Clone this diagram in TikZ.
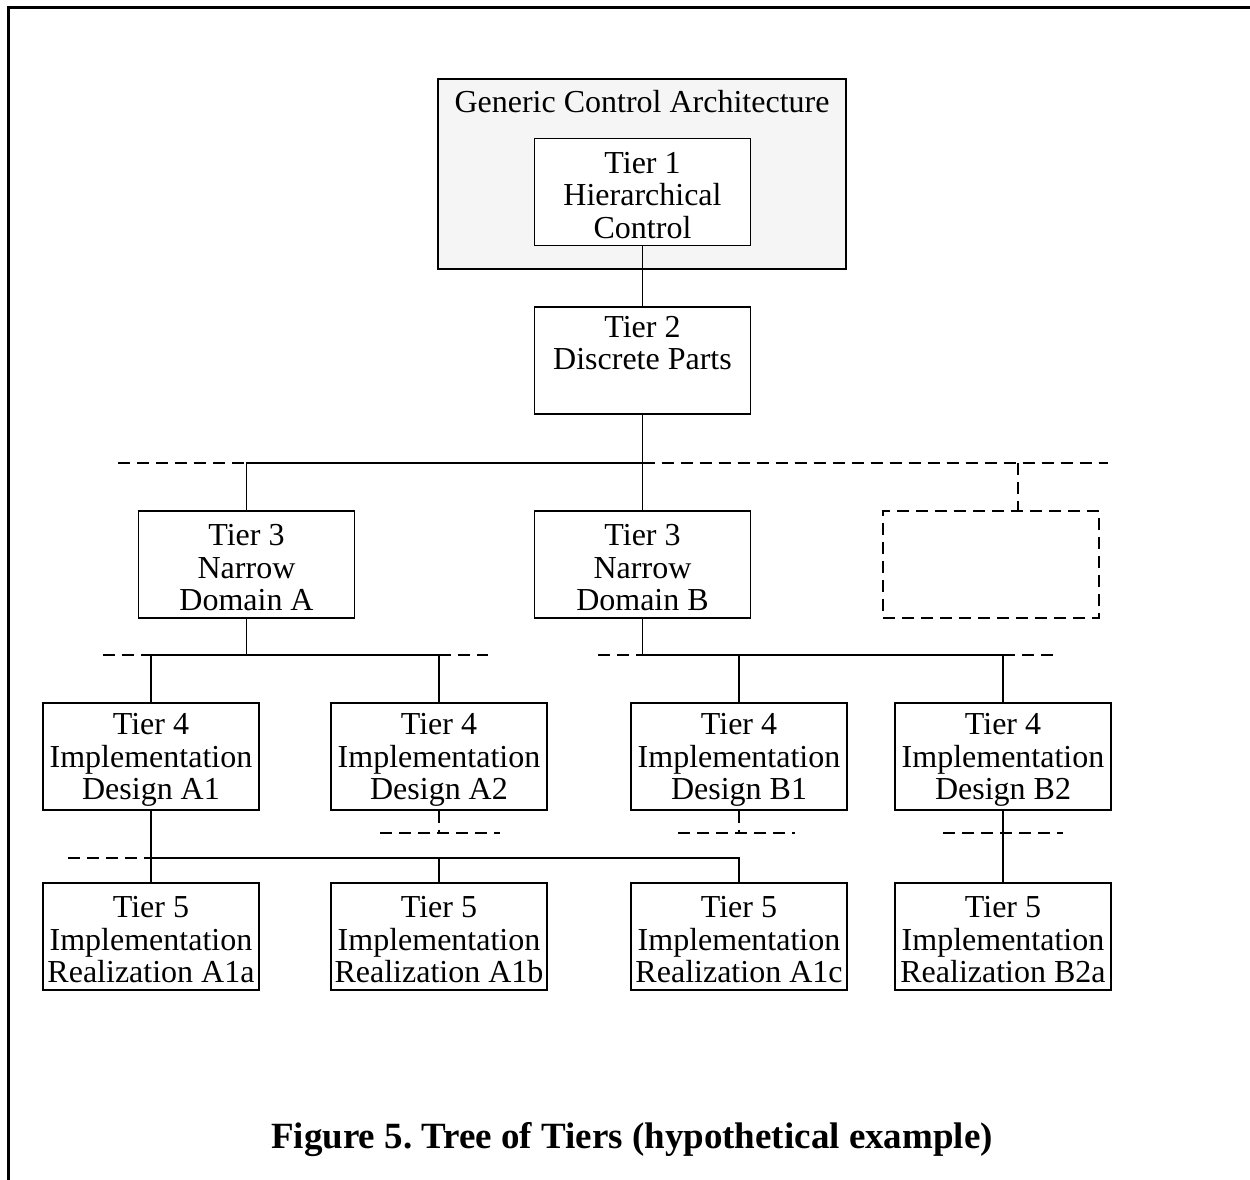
\documentclass[tikz,border=0pt]{standalone}
\usepackage{fontspec}
\setmainfont{Liberation Serif}
\newcommand{\tierbox}[4]{%
  \node[tbox] (#1) at (#2,#3) {};
  \node[ttext] (#1-text) at ([yshift=-3.5pt]#1.center) {#4};}
\begin{document}
\begin{tikzpicture}[x=1pt,y=-1pt,
  tbox/.style={draw, line width=1.3pt, fill=white, minimum width=216pt, minimum height=107pt, inner sep=0pt},
  ttext/.style={inner sep=0pt, align=center, font=\fontsize{32}{32.5}\selectfont},
  ghost/.style={draw, line width=1.3pt, dash pattern=on 12pt off 7pt, minimum width=216pt, minimum height=107pt, inner sep=0pt},
  link/.style={line width=1.3pt},
  dlink/.style={line width=1.3pt, dash pattern=on 12pt off 7pt}]
\useasboundingbox (0,0) rectangle (1250,1180);
% frame
\draw[line width=3pt] (8,1180) -- (8,8) -- (1250,8);
% generic architecture box
\node[draw, line width=1.3pt, fill=black!4, minimum width=408pt, minimum height=190pt, inner sep=0pt] (gca) at (642,174) {};
\node[font=\fontsize{32}{32.5}\selectfont, anchor=center] (gcat) at (642,102) {Generic Control Architecture};
\tierbox{t1}{642.5}{192}{Tier 1\\Hierarchical\\Control}
\tierbox{t2}{642.5}{360.5}{Tier 2\\Discrete Parts\\\strut}
\draw[link] (t1.south) -- (t2.north);
% tier 3
\tierbox{t3a}{246.5}{564.5}{Tier 3\\Narrow\\Domain A}
\tierbox{t3b}{642.5}{564.5}{Tier 3\\Narrow\\Domain B}
\node[ghost] (t3c) at (991,564.5) {};
\coordinate (b2l) at (118,463);
\coordinate (b2r) at (1108,463);
\coordinate (b2j) at (642.5,463);
\draw[link] (t2.south) -- (b2j) -| (t3a.north);
\draw[link] (b2j) -- (t3b.north);
\draw[dlink] (b2l) -- (t3a.north |- b2l);
\draw[dlink] (b2j) -- (b2r);
\coordinate (gtop) at (1018,463);
\coordinate (gbot) at (1018,511);
\draw[dlink] (gtop) -- (gbot);
% tier 4
\tierbox{t4a1}{151}{756.5}{Tier 4\\Implementation\\Design A1}
\tierbox{t4a2}{439}{756.5}{Tier 4\\Implementation\\Design A2}
\tierbox{t4b1}{739}{756.5}{Tier 4\\Implementation\\Design B1}
\tierbox{t4b2}{1003}{756.5}{Tier 4\\Implementation\\Design B2}
\coordinate (b3a) at (246.5,655);
\coordinate (b3b) at (642.5,655);
\draw[link] (t3a.south) -- (b3a);
\draw[link] (t4a1.north) |- (b3a) -| (t4a2.north);
\draw[dlink] (103,655) -- (t4a1.north |- b3a);
\draw[dlink] (t4a2.north |- b3a) -- (488,655);
\draw[link] (t3b.south) -- (b3b) -| (t4b2.north);
\draw[link] (t4b1.north) -- (t4b1.north |- b3b);
\draw[dlink] (598,655) -- (b3b);
\draw[dlink] (t4b2.north |- b3b) -- (1053,655);
% tier 5
\tierbox{t5a}{151}{936.5}{Tier 5\\Implementation\\Realization A1a}
\tierbox{t5b}{439}{936.5}{Tier 5\\Implementation\\Realization A1b}
\tierbox{t5c}{739}{936.5}{Tier 5\\Implementation\\Realization A1c}
\tierbox{t5d}{1003}{936.5}{Tier 5\\Implementation\\Realization B2a}
\coordinate (b4) at (151,858);
\draw[link] (t4a1.south) -- (t5a.north);
\draw[link] (b4) -| (t5c.north);
\draw[link] (t5b.north) -- (t5b.north |- b4);
\draw[dlink] (68,858) -- (b4);
\draw[link] (t4b2.south) -- (t5d.north);
\draw[dlink] (t4a2.south) -- (439,833);
\draw[dlink] (380,833) -- (500,833);
\draw[dlink] (t4b1.south) -- (739,833);
\draw[dlink] (678,833) -- (795,833);
\draw[dlink] (943,833) -- (1063,833);
% caption
\node[font=\bfseries\fontsize{37}{40}\selectfont] (cap) at (632,1140) {\frenchspacing Figure 5. Tree of Tiers (hypothetical example)};
\end{tikzpicture}
\end{document}
